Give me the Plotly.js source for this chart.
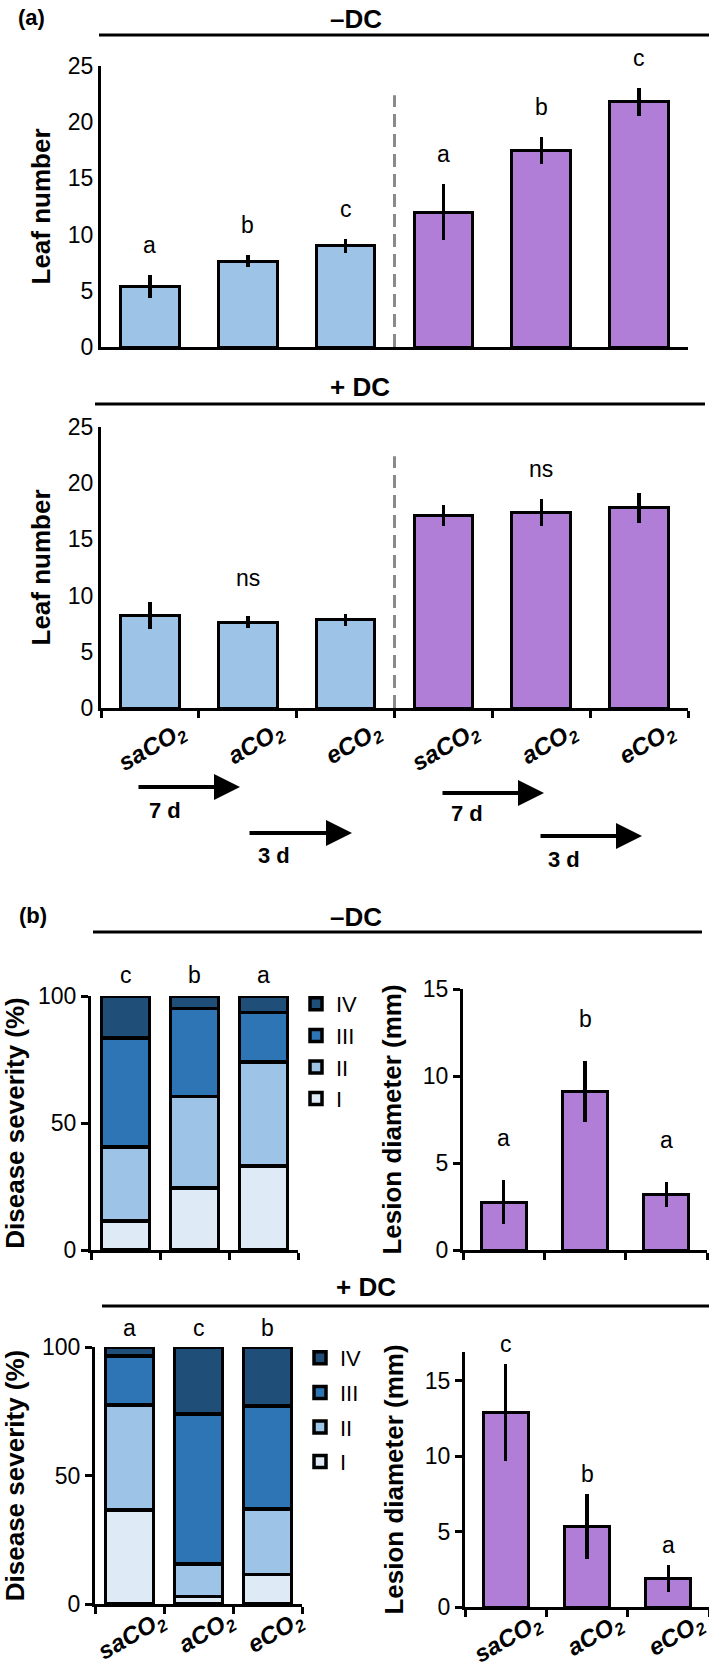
<!DOCTYPE html>
<html><head><meta charset="utf-8">
<script src="https://cdn.plot.ly/plotly-3.0.1.min.js"></script>
<style>html,body{margin:0;padding:0;background:#fff;}#chart{width:709px;height:1668px;}</style>
</head><body><div id="chart"></div>
<script>
// ---------------- data ----------------
const co2Labels = ['saCO<sub>2</sub>', 'aCO<sub>2</sub>', 'eCO<sub>2</sub>'];
const leafLabels = co2Labels.concat(co2Labels);
const leafMinusDC = [5.4, 7.65, 9.0, 12.0, 17.45, 21.8];
const leafMinusDCErr = [1.0, 0.55, 0.65, 2.5, 1.2, 1.25];
const leafMinusDCLetters = ['a', 'b', 'c', 'a', 'b', 'c'];
const leafPlusDC = [8.2, 7.65, 7.85, 17.15, 17.4, 17.8];
const leafPlusDCErr = [1.2, 0.5, 0.55, 0.95, 1.2, 1.3];
const leafPlusDCGroupLetters = ['ns', 'ns'];
const periodLabels = ['7 d', '3 d'];
const severityClasses = ['I', 'II', 'III', 'IV'];
const sevMinusDC_I = [11.5, 24.5, 33];
const sevMinusDC_II = [29, 36, 41];
const sevMinusDC_III = [43, 34.5, 19.5];
const sevMinusDC_IV = [16.5, 5, 6.5];
const sevMinusDCLetters = ['c', 'b', 'a'];
const sevPlusDC_I = [36.5, 3, 11.5];
const sevPlusDC_II = [41, 12.5, 25.5];
const sevPlusDC_III = [19, 58.5, 40];
const sevPlusDC_IV = [3.5, 26, 23];
const sevPlusDCLetters = ['a', 'c', 'b'];
const lesionMinusDC = [2.75, 9.1, 3.2];
const lesionMinusDCErr = [1.25, 1.75, 0.7];
const lesionMinusDCLetters = ['a', 'b', 'a'];
const lesionPlusDC = [12.9, 5.35, 1.9];
const lesionPlusDCErr = [3.2, 2.15, 0.9];
const lesionPlusDCLetters = ['c', 'b', 'a'];

// ---------------- styling ----------------
const W = 709, H = 1668;
const fx = p => p / W;
const fy = p => 1 - p / H;
const FONT = 'Liberation Sans, Arial, sans-serif';
const NARROW = 'Liberation Sans Narrow, Arial Narrow, Liberation Sans, sans-serif';
const BLUE = '#9DC3E6', PURPLE = '#B07ED6';
const SEV_COLORS = ['#DEEBF7', '#9DC3E6', '#2E75B6', '#1F4E79'];
const LABEL_FONT = {size: 24, family: FONT, color: '#000', weight: 'bold', style: 'italic'};

const idxA = leafMinusDC.map((_, i) => i);
const colA = idxA.map(i => i < 3 ? BLUE : PURPLE);
const errY = arr => ({type: 'data', array: arr, visible: true, thickness: 3.5, width: 0, color: '#000'});

const traces = [];
traces.push({type: 'bar', x: idxA, y: leafMinusDC, error_y: errY(leafMinusDCErr),
  marker: {color: colA, line: {color: '#000', width: 3}}, width: 0.6,
  xaxis: 'x', yaxis: 'y', showlegend: false, hoverinfo: 'skip'});
traces.push({type: 'bar', x: idxA, y: leafPlusDC, error_y: errY(leafPlusDCErr),
  marker: {color: colA, line: {color: '#000', width: 3}}, width: 0.6,
  xaxis: 'x2', yaxis: 'y2', showlegend: false, hoverinfo: 'skip'});
[sevMinusDC_I, sevMinusDC_II, sevMinusDC_III, sevMinusDC_IV].forEach((arr, k) => {
  traces.push({type: 'bar', x: co2Labels, y: arr, name: severityClasses[k], legendgroup: 'm' + k, legendrank: 10 - k,
    marker: {color: SEV_COLORS[k], line: {color: '#000', width: 3.5}}, width: 0.7,
    xaxis: 'x3', yaxis: 'y3', legend: 'legend', hoverinfo: 'skip'});
});
traces.push({type: 'bar', x: co2Labels, y: lesionMinusDC, error_y: errY(lesionMinusDCErr),
  marker: {color: PURPLE, line: {color: '#000', width: 3}}, width: 0.55,
  xaxis: 'x4', yaxis: 'y4', showlegend: false, hoverinfo: 'skip'});
[sevPlusDC_I, sevPlusDC_II, sevPlusDC_III, sevPlusDC_IV].forEach((arr, k) => {
  traces.push({type: 'bar', x: co2Labels, y: arr, name: severityClasses[k], legendgroup: 'p' + k, legendrank: 10 - k,
    marker: {color: SEV_COLORS[k], line: {color: '#000', width: 3.5}}, width: 0.7,
    xaxis: 'x5', yaxis: 'y5', legend: 'legend2', hoverinfo: 'skip'});
});
traces.push({type: 'bar', x: co2Labels, y: lesionPlusDC, error_y: errY(lesionPlusDCErr),
  marker: {color: PURPLE, line: {color: '#000', width: 3}}, width: 0.55,
  xaxis: 'x6', yaxis: 'y6', showlegend: false, hoverinfo: 'skip'});

function xLin(l, r, n, anchor, withTicks) {
  const a = {domain: [fx(l), fx(r)], anchor, range: [-0.5, n - 0.5], showgrid: false, zeroline: false,
    showline: true, linewidth: 3, linecolor: '#000', showticklabels: false, fixedrange: true,
    ticks: withTicks ? 'outside' : '', ticklen: 7, tickwidth: 3, tickcolor: '#000'};
  if (withTicks) { a.tickmode = 'array'; a.tickvals = Array.from({length: n + 1}, (_, i) => i - 0.5); a.ticktext = a.tickvals.map(() => ''); }
  return a;
}
function xCat(l, r, anchor, labels) {
  return {domain: [fx(l), fx(r)], anchor, type: 'category', range: [-0.5, 2.5], showgrid: false, zeroline: false,
    showline: true, linewidth: 3, linecolor: '#000', fixedrange: true,
    ticks: 'outside', tickson: 'boundaries', ticklen: 7, tickwidth: 3, tickcolor: '#000',
    showticklabels: !!labels, tickangle: -30, tickfont: LABEL_FONT, ticklabelshift: 31, ticklabelstandoff: -10};
}
function yAx(top, bot, range, dtick, anchor, withTicks, title, standoff) {
  return {domain: [fy(bot), fy(top)], anchor, range, dtick, tick0: 0, showgrid: false, zeroline: false,
    showline: true, linewidth: 3, linecolor: '#000', fixedrange: true,
    ticks: withTicks ? 'outside' : '', ticklen: 7, tickwidth: 3, tickcolor: '#000',
    tickfont: {size: 23, family: FONT, color: '#000'},
    title: {text: '<b>' + title + '</b>', font: {size: 26, family: FONT, color: '#000'}, standoff}};
}

const ann = [];
const txt = (x, y, text, size, extra) => Object.assign({xref: 'paper', yref: 'paper', x: fx(x), y: fy(y), text,
  showarrow: false, xanchor: 'center', yanchor: 'middle', font: {size, family: FONT, color: '#000'}}, extra || {});

// panel headers
ann.push(txt(31, 17, '<b>(a)</b>', 22, {font: {size: 22, family: NARROW, color: '#000'}}));
ann.push(txt(356, 19, '<b>–DC</b>', 26, {font: {size: 26, family: NARROW, color: '#000'}}));
ann.push(txt(360, 387, '<b>+ DC</b>', 26, {font: {size: 26, family: NARROW, color: '#000'}}));
ann.push(txt(33, 915, '<b>(b)</b>', 22, {font: {size: 22, family: NARROW, color: '#000'}}));
ann.push(txt(356, 917, '<b>–DC</b>', 26, {font: {size: 26, family: NARROW, color: '#000'}}));
ann.push(txt(366, 1287, '<b>+ DC</b>', 26, {font: {size: 26, family: NARROW, color: '#000'}}));

const letter = (xref, yref, x, y, text, yshift) => ({xref, yref, x, y, text, yshift, showarrow: false,
  xanchor: 'center', yanchor: 'middle', font: {size: 23, family: FONT, color: '#000'}});

leafMinusDC.forEach((v, i) => ann.push(letter('x', 'y', i, v + leafMinusDCErr[i], leafMinusDCLetters[i], 30)));
leafPlusDCGroupLetters.forEach((t, g) => {
  const tops = leafPlusDC.slice(g * 3, g * 3 + 3).map((v, j) => v + leafPlusDCErr[g * 3 + j]);
  ann.push(letter('x2', 'y2', g * 3 + 1, Math.max(...tops), t, 24));
});
sevMinusDCLetters.forEach((t, i) => ann.push(letter('x3', 'y3', i, 100, t, 21)));
lesionMinusDC.forEach((v, i) => ann.push(letter('x4', 'y4', i, v + lesionMinusDCErr[i], lesionMinusDCLetters[i], 42)));
sevPlusDCLetters.forEach((t, i) => ann.push(letter('x5', 'y5', i, 100, t, 19)));
lesionPlusDC.forEach((v, i) => ann.push(letter('x6', 'y6', i, v + lesionPlusDCErr[i], lesionPlusDCLetters[i], 20)));

// period arrows
const arrows = [
  {x0: 137, x1: 240, y: 787, lx: 165, ly: 810, k: 0},
  {x0: 248, x1: 352, y: 833, lx: 274, ly: 855, k: 1},
  {x0: 441, x1: 544, y: 793, lx: 467, ly: 813, k: 0},
  {x0: 539, x1: 642, y: 836, lx: 564, ly: 859, k: 1}
];
arrows.forEach(a => {
  ann.push({xref: 'paper', yref: 'paper', x: fx(a.x1), y: fy(a.y), ax: a.x0 - a.x1, ay: 0, text: '',
    showarrow: true, arrowhead: 2, arrowsize: 1.3, arrowwidth: 4, arrowcolor: '#000', standoff: 0});
  ann.push(txt(a.lx, a.ly, '<b>' + periodLabels[a.k] + '</b>', 22, {font: {size: 22, family: NARROW, color: '#000'}}));
});

const hline = (x0, x1, y) => ({type: 'line', xref: 'paper', yref: 'paper', x0: fx(x0), x1: fx(x1), y0: fy(y), y1: fy(y),
  line: {color: '#000', width: 3}});
const shapes = [
  hline(99, 709, 35), hline(95, 705, 404), hline(93, 702, 932), hline(102, 709, 1306),
  {type: 'line', xref: 'x', yref: 'y', x0: 2.5, x1: 2.5, y0: 0, y1: 22.4, line: {color: '#8A8A8A', width: 3, dash: '13px,7px'}},
  {type: 'line', xref: 'x2', yref: 'y2', x0: 2.5, x1: 2.5, y0: 0, y1: 22.4, line: {color: '#8A8A8A', width: 3, dash: '13px,7px'}}
];

const legendBase = {xanchor: 'left', yanchor: 'top', traceorder: 'grouped', bgcolor: 'rgba(0,0,0,0)',
  font: {size: 22, family: FONT, color: '#000'}, itemwidth: 30, itemclick: false, itemdoubleclick: false};

const layout = {
  width: W, height: H, margin: {l: 0, r: 0, t: 0, b: 0, autoexpand: false}, paper_bgcolor: '#fff', plot_bgcolor: 'rgba(0,0,0,0)',
  font: {family: FONT, color: '#000'}, barmode: 'stack', showlegend: true, hovermode: false,
  xaxis: xLin(101, 688, 6, 'y', false),
  yaxis: yAx(66, 347, [0, 25], 5, 'x', false, 'Leaf number', 10),
  xaxis2: xLin(101, 688, 6, 'y2', true),
  yaxis2: yAx(427, 708, [0, 25], 5, 'x2', false, 'Leaf number', 10),
  // overlay axis carrying the rotated category labels of the leaf-number panel
  xaxis7: {domain: [fx(101), fx(688)], anchor: 'y2', overlaying: 'x2', range: [-0.5, 5.5], showgrid: false,
    zeroline: false, showline: false, ticks: '', tickmode: 'array', tickvals: idxA, ticktext: leafLabels,
    tickangle: -30, tickfont: LABEL_FONT, ticklabelshift: 31, ticklabelstandoff: 4, fixedrange: true},
  xaxis3: xCat(91, 298, 'y3', false),
  yaxis3: yAx(996, 1250, [0, 100], 50, 'x3', true, 'Disease severity (%)', 10),
  xaxis4: xCat(463, 707, 'y4', false),
  yaxis4: yAx(989, 1250, [0, 15], 5, 'x4', true, 'Lesion diameter (mm)', 14),
  xaxis5: xCat(95, 302, 'y5', true),
  yaxis5: yAx(1347, 1604, [0, 100], 50, 'x5', true, 'Disease severity (%)', 10),
  xaxis6: xCat(465, 709, 'y6', true),
  yaxis6: yAx(1352, 1607, [0, 16.9], 5, 'x6', true, 'Lesion diameter (mm)', 14),
  legend: Object.assign({x: fx(296), y: fy(983), tracegroupgap: 0}, legendBase),
  legend2: Object.assign({x: fx(300), y: fy(1337), tracegroupgap: 3}, legendBase),
  annotations: ann, shapes
};
// an empty trace so the overlay label axis is drawn
traces.push({type: 'scatter', x: [], y: [], xaxis: 'x7', yaxis: 'y2', showlegend: false, hoverinfo: 'skip'});

Plotly.newPlot('chart', traces, layout, {staticPlot: true, displayModeBar: false});
</script></body></html>
